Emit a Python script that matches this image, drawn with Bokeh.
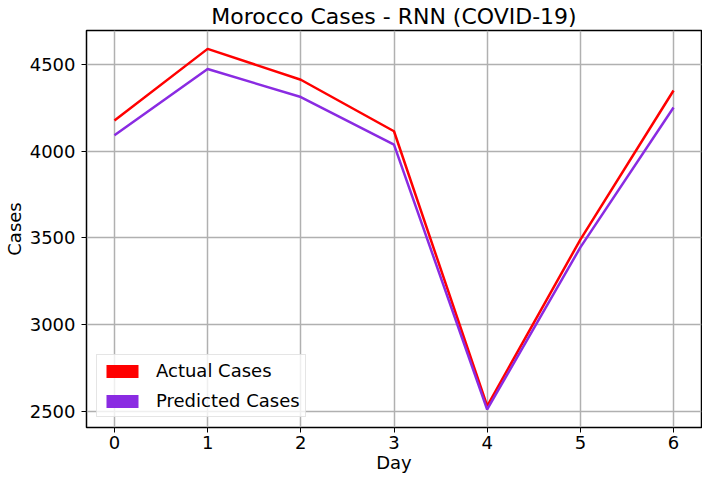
from bokeh.plotting import figure
from bokeh.models import ColumnDataSource, Range1d, Legend, LegendItem, FixedTicker
from bokeh.embed import file_html
from bokeh.resources import INLINE

days = [0, 1, 2, 3, 4, 5, 6]
actual_cases = [4177, 4590, 4412, 4115, 2530, 3490, 4350]
predicted_cases = [4092, 4474, 4312, 4038, 2510, 3445, 4252]
x_ticks = [0, 1, 2, 3, 4, 5, 6]
y_ticks = [2500, 3000, 3500, 4000, 4500]

FONT = "DejaVu Sans"

p = figure(width=702, height=475, output_backend="svg", toolbar_location=None,
           x_range=Range1d(-0.3, 6.3), y_range=Range1d(2406, 4696),
           min_border_left=83, min_border_right=1, min_border_top=27, min_border_bottom=46)

p.title.text = "Morocco Cases - RNN (COVID-19)"
p.title.align = "center"
p.title.text_font = FONT
p.title.text_font_size = "22px"
p.title.text_font_style = "normal"
p.title.text_color = "#000000"
p.title.standoff = 3

p.outline_line_color = "black"
p.outline_line_width = 1.5

src = ColumnDataSource(dict(day=days, actual=actual_cases, pred=predicted_cases))
p.line("day", "actual", source=src, line_color="#ff0000", line_width=2.5)
p.line("day", "pred", source=src, line_color="#8a2be2", line_width=2.5)

# zero-size rects: only used to draw filled patches in the legend
r_a = p.rect("day", "actual", width=0, height=0, source=src, fill_color="#ff0000", line_color=None)
r_p = p.rect("day", "pred", width=0, height=0, source=src, fill_color="#8a2be2", line_color=None)

legend = Legend(items=[LegendItem(label="Actual Cases", renderers=[r_a]),
                       LegendItem(label="Predicted Cases", renderers=[r_p])],
                location="bottom_left")
legend.margin = 10
legend.padding = 5
legend.spacing = 9
legend.glyph_width = 40
legend.glyph_height = 16
legend.label_height = 20
legend.label_standoff = 14
legend.label_text_font = FONT
legend.label_text_font_size = "18px"
legend.label_text_color = "#000000"
legend.border_line_color = "#cccccc"
legend.border_line_width = 1
legend.background_fill_alpha = 0.8
p.add_layout(legend)

for ax in (p.xaxis[0], p.yaxis[0]):
    ax.major_label_text_font = FONT
    ax.major_label_text_font_size = "18px"
    ax.major_label_text_color = "#000000"
    ax.axis_label_text_font = FONT
    ax.axis_label_text_font_size = "18px"
    ax.axis_label_text_font_style = "normal"
    ax.axis_label_text_color = "#000000"
    ax.minor_tick_line_color = None
    ax.major_tick_in = 0
    ax.major_tick_out = 5
    ax.major_tick_line_color = "black"
    ax.axis_line_color = None

p.xaxis[0].ticker = FixedTicker(ticks=x_ticks)
p.yaxis[0].ticker = FixedTicker(ticks=y_ticks)
p.xaxis[0].axis_label = "Day"
p.yaxis[0].axis_label = "Cases"
p.xaxis[0].major_label_standoff = 3
p.xaxis[0].axis_label_standoff = 0
p.yaxis[0].major_label_standoff = 6
p.yaxis[0].axis_label_standoff = 2

p.grid.grid_line_color = "#b0b0b0"
p.grid.grid_line_width = 1.5

open("out.html", "w").write(file_html(p, INLINE))
